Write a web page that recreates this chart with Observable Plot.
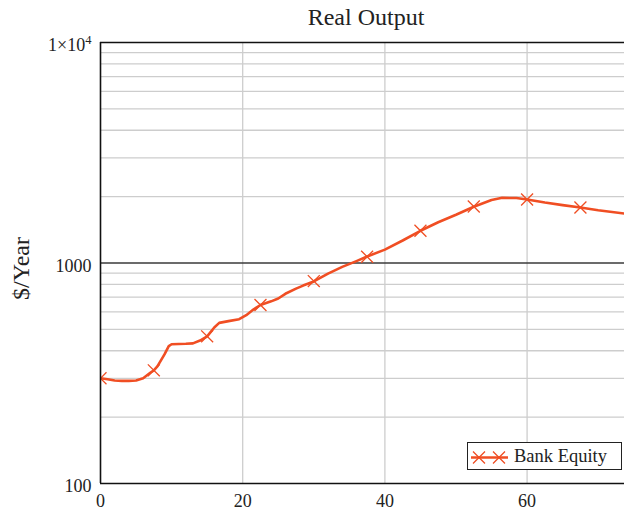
<!DOCTYPE html>
<html><head><meta charset="utf-8">
<script src="https://cdn.jsdelivr.net/npm/d3@7"></script>
<script src="https://cdn.jsdelivr.net/npm/@observablehq/plot@0.6"></script>
<style>
body{margin:0;background:#fff;}
#wrap{position:relative;width:624px;height:510px;overflow:hidden;font-family:"Liberation Serif","Times New Roman",serif;color:#222;}
#title{position:absolute;top:5px;left:366px;transform:translateX(-50%);font-size:24px;line-height:24px;white-space:nowrap;}
#legend{position:absolute;left:467px;top:442px;width:153px;height:26px;border:1.5px solid #222;background:#fff;}
#legend svg{position:absolute;left:0;top:0;}
#legend span{position:absolute;left:46px;top:2px;font-size:18.5px;line-height:22px;white-space:nowrap;}
</style></head>
<body>
<div id="wrap"><div id="chart"></div><div id="title">Real Output</div>
<div id="legend"><svg width="44" height="26"><line x1="3" x2="40" y1="14.5" y2="14.5" stroke="#f04e23" stroke-width="2.5"/><path d="M5,8.5L17,20.5M5,20.5L17,8.5M25,8.5L37,20.5M25,20.5L37,8.5" stroke="#f04e23" stroke-width="1.3" fill="none"/></svg><span>Bank Equity</span></div>
</div>
<script>
const seriesName = "Bank Equity";
const years  = [0, 1, 2, 3, 4, 5, 6, 7, 7.5, 8, 9, 9.6, 10, 12, 13, 14, 15, 16, 16.7, 18, 19.5, 20.5, 21.5, 22.5, 24, 25, 26, 27.5, 28.5, 30, 32, 34, 36, 37.5, 40, 42.5, 45, 47.5, 50, 52.5, 55, 56.5, 58.5, 60, 62.5, 65, 67.5, 70, 73.7];
const output = [300, 297, 293, 292, 292, 293, 300, 318, 326, 340, 385, 420, 428, 430, 432, 445, 465, 510, 535, 545, 556, 580, 615, 645, 670, 690, 725, 765, 790, 825, 895, 960, 1020, 1070, 1150, 1265, 1400, 1530, 1655, 1800, 1930, 1975, 1970, 1940, 1880, 1830, 1785, 1735, 1675];
const markerYears  = [0, 7.5, 15, 22.5, 30, 37.5, 45, 52.5, 60, 67.5];
const markerOutput = [300, 326, 465, 645, 828, 1068, 1400, 1805, 1942, 1785];
const xTicks = [0, 20, 40, 60];
const yTicks = [100, 1000, 10000];
const yMinor = [200, 300, 400, 500, 600, 700, 800, 900, 2000, 3000, 4000, 5000, 6000, 7000, 8000, 9000];

const color = "#f04e23";
const line = years.map((x, i) => ({x, y: output[i]}));
const marks = markerYears.map((x, i) => ({x, y: markerOutput[i]}));

const chart = Plot.plot({
  width: 624, height: 510,
  marginLeft: 100, marginRight: 0, marginTop: 42, marginBottom: 27,
  style: {fontFamily: '"Liberation Serif","Times New Roman",serif', color: "#222", background: "#fff"},
  x: {domain: [0, 73.7]},
  y: {type: "log", domain: [100, 10000]},
  marks: [
    Plot.gridY(yMinor, {stroke: "#cdcdcd", strokeOpacity: 1, strokeWidth: 1.3}),
    Plot.gridX(xTicks.filter(d => d > 0), {stroke: "#cdcdcd", strokeOpacity: 1, strokeWidth: 1.3}),
    Plot.ruleY([1000], {stroke: "#3a3a3a", strokeWidth: 1.5}),
    Plot.line(line, {x: "x", y: "y", stroke: color, strokeWidth: 2.6, clip: true}),
    Plot.dot(marks, {x: "x", y: "y", symbol: "times", r: 5.5, stroke: color, strokeWidth: 1.3, clip: true}),
    Plot.ruleX([0], {stroke: "#111", strokeWidth: 1.6}),
    Plot.ruleY([100, 10000], {stroke: "#111", strokeWidth: 1.6}),
    Plot.axisX(xTicks, {tickSize: 0, tickPadding: 11, fontSize: 18, label: null}),
    Plot.axisY(yTicks, {tickSize: 0, tickPadding: 9, fontSize: 18, dy: 3, label: null,
      tickFormat: d => d === 10000 ? "1×10⁴" : String(d)}),
    Plot.text(["$/Year"], {frameAnchor: "left", textAnchor: "middle", dx: -79, dy: 5.5, rotate: -90, fontSize: 24, lineAnchor: "middle", fill: "#222"})
  ]
});
document.getElementById("chart").appendChild(chart);

d3.select(chart).selectAll("text").filter(function(){ return this.textContent === "1×10⁴"; })
  .each(function(){
    const t = d3.select(this);
    t.text("1×10");
    t.append("tspan").attr("dy", "-0.55em").attr("font-size", "12.5px").text("4");
  });
</script>
</body></html>
